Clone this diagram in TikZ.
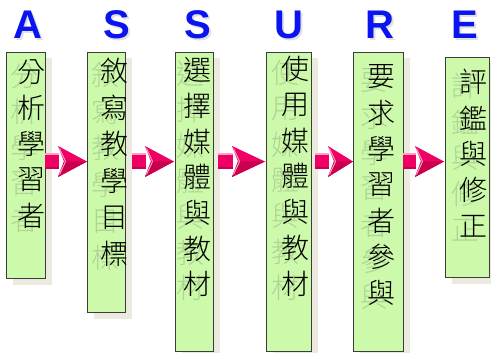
\documentclass[tikz,border=0pt]{standalone}
\usepackage{fontspec}
\usetikzlibrary{shadows}
\newfontfamily\cjk{Noto Sans CJK TC Light}
\newfontfamily\latf{Liberation Sans}
\definecolor{boxgreen}{RGB}{204,250,170}
\definecolor{shadowc}{RGB}{236,233,222}
\definecolor{edgec}{RGB}{60,60,60}
\definecolor{letterblue}{RGB}{10,20,240}
\definecolor{arrowc}{RGB}{238,0,100}
\definecolor{arrowdark}{RGB}{200,0,78}
\definecolor{arrowlight}{RGB}{255,160,195}
\tikzset{
  box/.style={draw=edgec, line width=1pt, fill=boxgreen, inner sep=0pt, anchor=north west,
    drop shadow={shadow xshift=6pt, shadow yshift=-6pt, fill=shadowc, opacity=1}},
  letter/.style={font=\latf\bfseries\fontsize{40}{40}\selectfont, text=letterblue, inner sep=0pt},
  lettershade/.style={font=\latf\bfseries\fontsize{40}{40}\selectfont, text=black, opacity=0.12, inner sep=0pt},
  ch/.style={font=\cjk\fontsize{28}{28}\selectfont, inner sep=0pt},
  ghost/.style={ch, text=black, opacity=0.15},
}
\newcommand\chevarrow[3]{% #1 rect start, #2 chevron back, #3 tip
  \fill[arrowc] (#1,153) rectangle (#2+1,169);
  \fill[arrowlight] (#1,153) rectangle (#2+1,155);
  \fill[arrowdark] (#1,167) rectangle (#2+1,169);
  \fill[arrowc] (#2,146) -- (#3,161.5) -- (#2,177) -- (#2+6,161.5) -- cycle;
  \fill[arrowdark] (#2+6,161.5) -- (#3,161.5) -- (#2,177) -- cycle;
  \draw[arrowlight, line width=1pt] (#2+1.5,148.5) -- (#2+7.5,161.5) -- (#2+1.5,174.5);
}
\begin{document}
\begin{tikzpicture}[x=1pt,y=-1pt]
\useasboundingbox (0,0) rectangle (491,353);
\fill[white] (0,0) rectangle (491,353);
% letters
\foreach \L/\X [count=\n] in {A/27.5,S/117,S/198,U/288.5,R/380,E/465}{
  \node[lettershade] (ls\n) at (\X+2,27) {\L};
  \node[letter] (l\n) at (\X,25) {\L};
}
% boxes
\node[box, minimum width=39pt, minimum height=226pt] (b1) at (6,52) {};
\node[box, minimum width=38pt, minimum height=260pt] (b2) at (87,52) {};
\node[box, minimum width=38pt, minimum height=299pt] (b3) at (175,52) {};
\node[box, minimum width=45pt, minimum height=299pt] (b4) at (266,52) {};
\node[box, minimum width=50pt, minimum height=299pt] (b5) at (353,52) {};
\node[box, minimum width=44pt, minimum height=220pt] (b6) at (445,57) {};
% arrows
\chevarrow{45}{58}{87}
\chevarrow{132}{145}{174}
\chevarrow{218}{232}{265}
\chevarrow{315}{328}{353}
\chevarrow{403}{415}{444}
% texts
\foreach \c [count=\i from 0] in {分,析,學,習,者}{
  \node[ghost] (g1-\i) at (24,{76+36*\i}) {\c};
  \node[ch] (t1-\i) at (31.5,{72+36*\i}) {\c};}
\foreach \c [count=\i from 0] in {敘,寫,教,學,目,標}{
  \node[ghost] (g2-\i) at (106,{75+36.6*\i}) {\c};
  \node[ch] (t2-\i) at (114,{71+36.6*\i}) {\c};}
\foreach \c [count=\i from 0] in {選,擇,媒,體,與,教,材}{
  \node[ghost] (g3-\i) at (190,{74+35.7*\i}) {\c};
  \node[ch] (t3-\i) at (197.5,{70+35.7*\i}) {\c};}
\foreach \c [count=\i from 0] in {使,用,媒,體,與,教,材}{
  \node[ghost] (g4-\i) at (285,{73+35.8*\i}) {\c};
  \node[ch] (t4-\i) at (295,{69+35.8*\i}) {\c};}
\foreach \c [count=\i from 0] in {要,求,學,習,者,參,與}{
  \node[ghost] (g5-\i) at (374,{81+36*\i}) {\c};
  \node[ch] (t5-\i) at (381.5,{77+36*\i}) {\c};}
\foreach \c [count=\i from 0] in {評,鑑,與,修,正}{
  \node[ghost] (g6-\i) at (465,{86+36*\i}) {\c};
  \node[ch] (t6-\i) at (473,{82+36*\i}) {\c};}
\end{tikzpicture}
\end{document}
